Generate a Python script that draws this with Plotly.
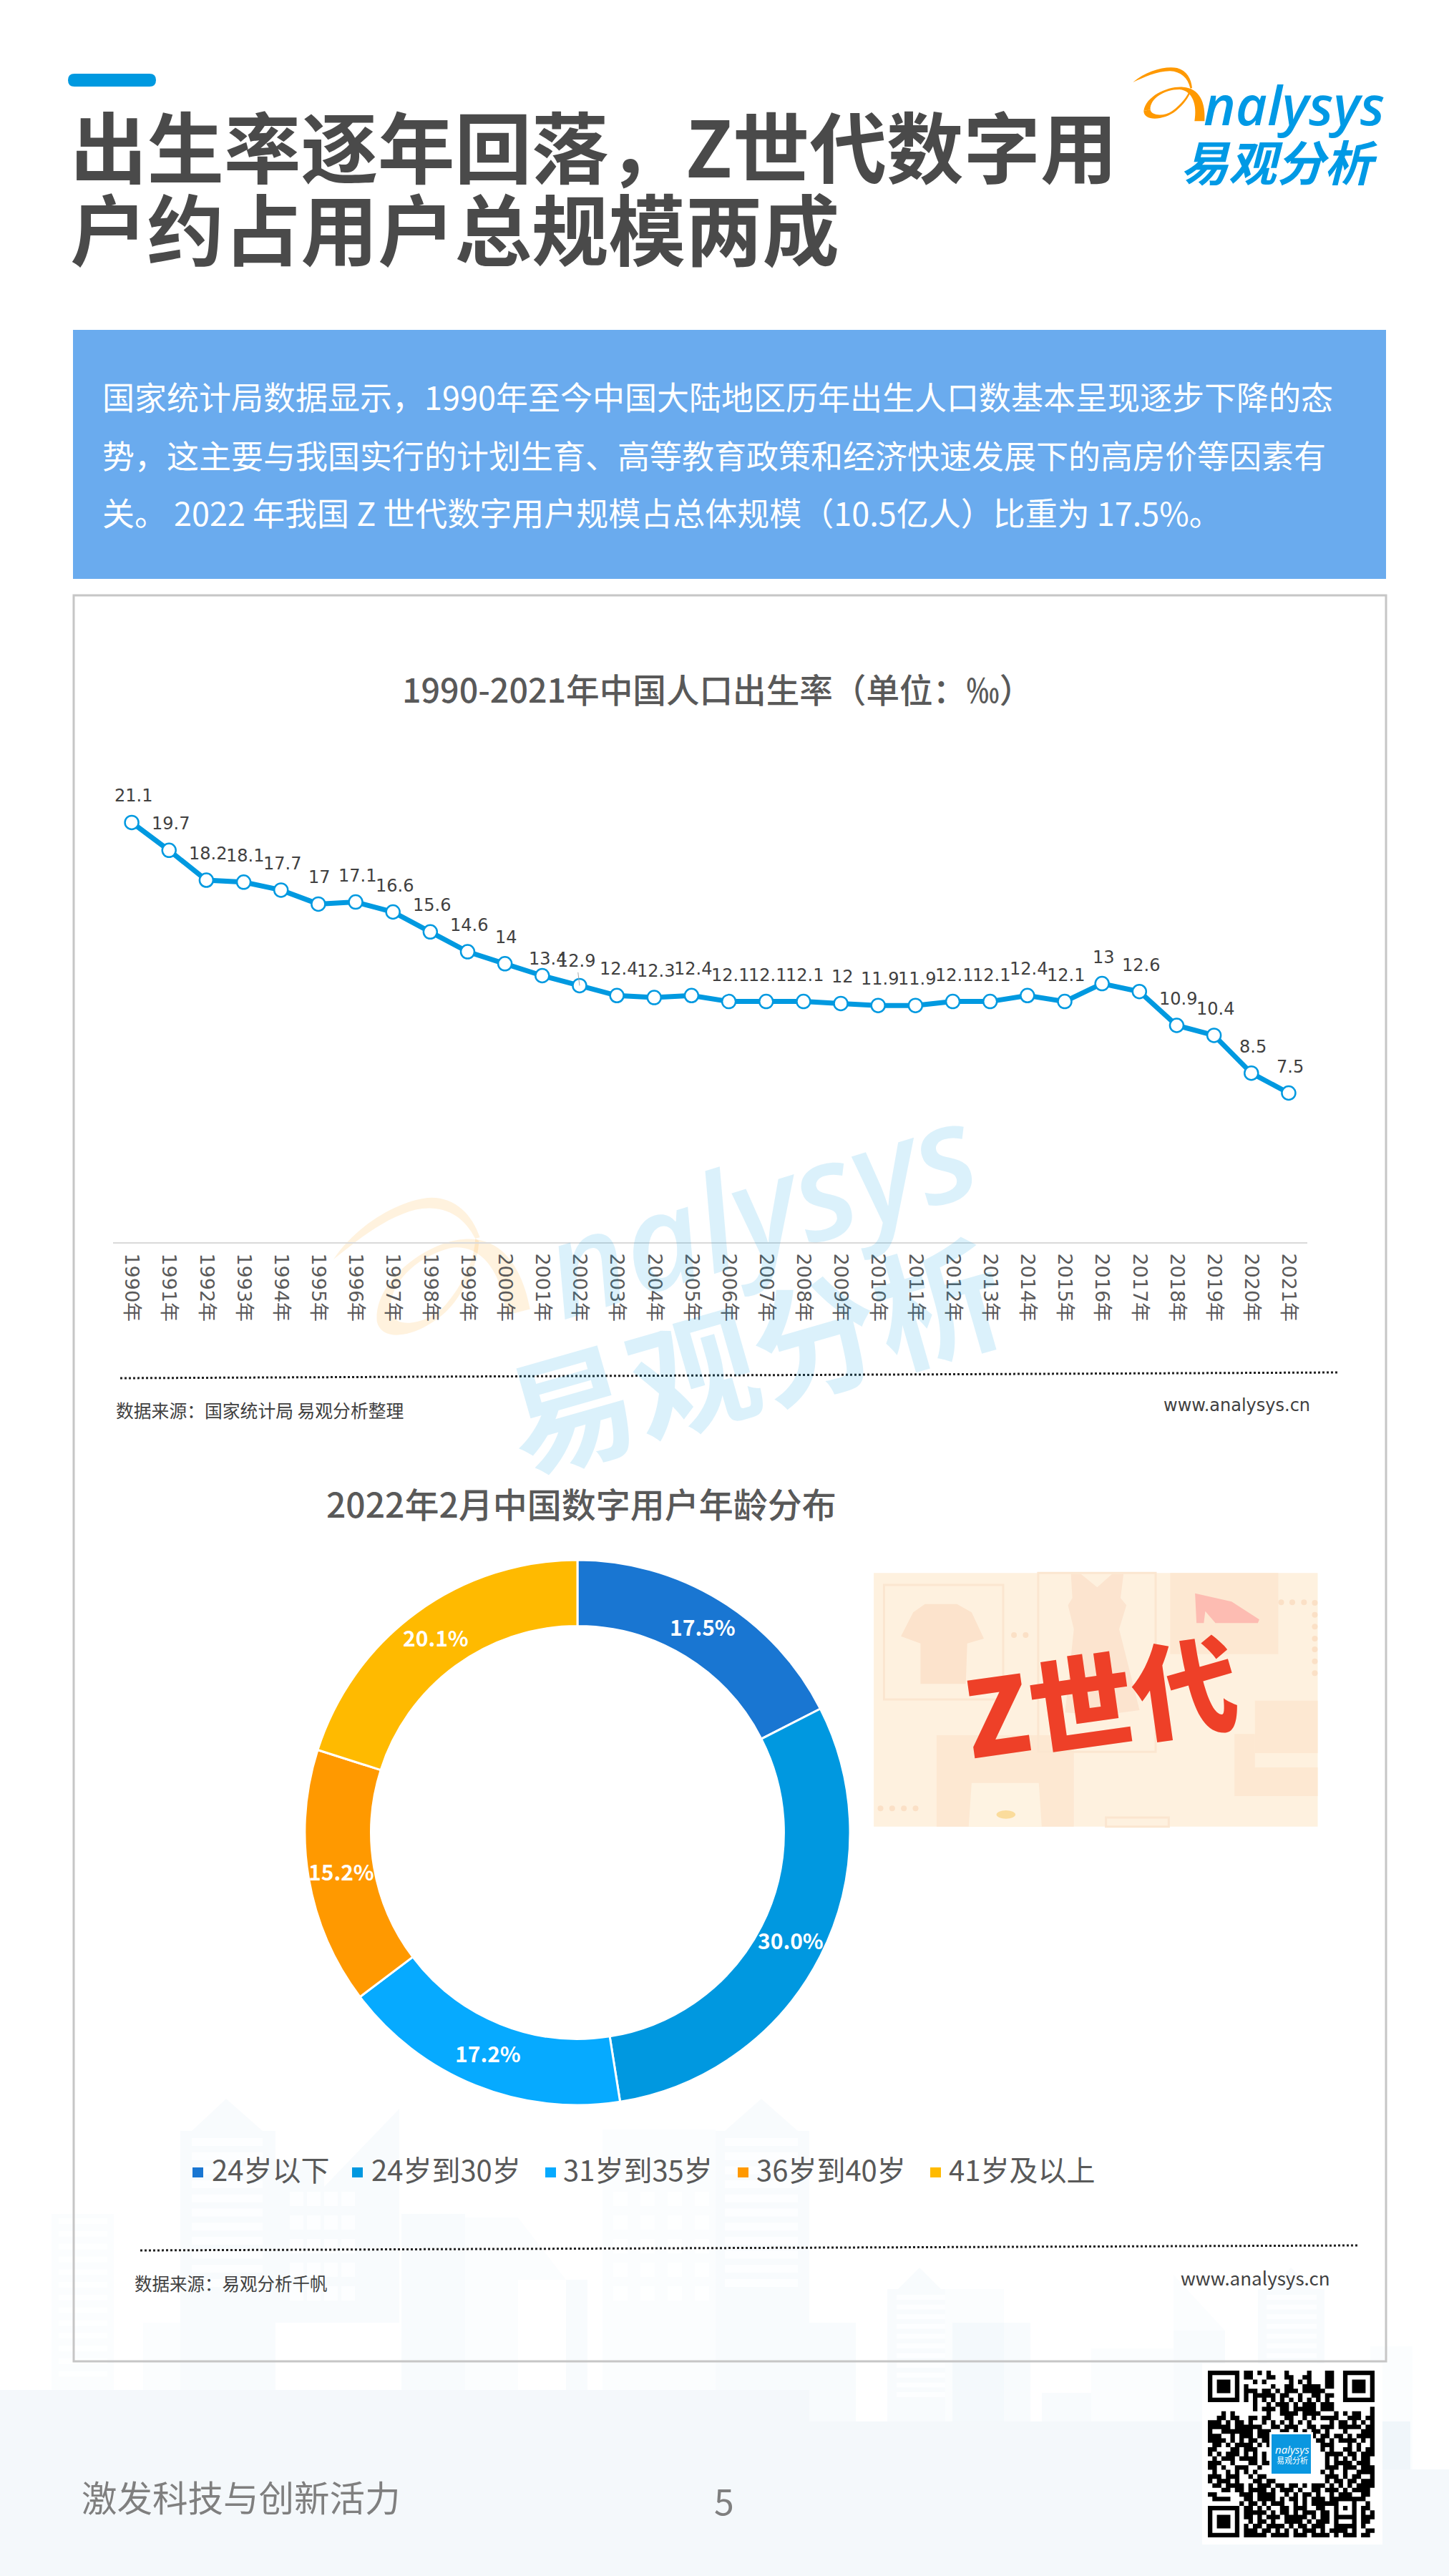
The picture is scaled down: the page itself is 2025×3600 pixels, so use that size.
import math
import plotly.graph_objects as go

# --- chart data ---
years = [f"{y}年" for y in range(1990, 2022)]
birth_rate = [21.1, 19.7, 18.2, 18.1, 17.7, 17, 17.1, 16.6, 15.6, 14.6, 14, 13.4, 12.9, 12.4, 12.3, 12.4,
              12.1, 12.1, 12.1, 12, 11.9, 11.9, 12.1, 12.1, 12.4, 12.1, 13, 12.6, 10.9, 10.4, 8.5, 7.5]
age_groups = ["24岁以下", "24岁到30岁", "31岁到35岁", "36岁到40岁", "41岁及以上"]
age_share = [17.5, 30.0, 17.2, 15.2, 20.1]
age_colors = ["#1976d2", "#0098e0", "#06aaff", "#ff9900", "#ffba00"]

W, H = 2025, 3600
CJK = "Noto Sans CJK SC"
LATIN = "DejaVu Sans, Noto Sans CJK SC"
BLUE = "#0099e0"


def px(x):
    return x / W


def py(y):
    return 1 - y / H


shapes = []
annotations = []


def rect(x0, y0, x1, y1, fill=None, line=None, lw=0, layer="below"):
    shapes.append(dict(type="rect", xref="paper", yref="paper", x0=px(x0), x1=px(x1), y0=py(y0), y1=py(y1),
                       fillcolor=fill or "rgba(0,0,0,0)", line=dict(color=line or "rgba(0,0,0,0)", width=lw), layer=layer))


def poly(points, fill, layer="below"):
    path = "M " + " L ".join(f"{px(x)},{py(y)}" for x, y in points) + " Z"
    shapes.append(dict(type="path", xref="paper", yref="paper", path=path, fillcolor=fill,
                       line=dict(width=0), layer=layer))


def curve(cmds, fill, tx, layer="below"):
    # cmds: list of (letter, points); tx maps a point to page pixels
    parts = []
    for letter, pts in cmds:
        coords = " ".join(f"{px(tx(*p)[0])},{py(tx(*p)[1])}" for p in pts)
        parts.append(f"{letter} {coords}")
    shapes.append(dict(type="path", xref="paper", yref="paper", path=" ".join(parts) + " Z", fillcolor=fill,
                       line=dict(width=0), layer=layer))


def dot(cx, cy, rx, ry, fill, layer="below"):
    shapes.append(dict(type="circle", xref="paper", yref="paper", x0=px(cx - rx), x1=px(cx + rx), y0=py(cy - ry),
                       y1=py(cy + ry), fillcolor=fill, line=dict(width=0), layer=layer))


def segment(x0, y0, x1, y1, color, width, dash="solid", layer="below"):
    shapes.append(dict(type="line", xref="paper", yref="paper", x0=px(x0), x1=px(x1), y0=py(y0), y1=py(y1),
                       line=dict(color=color, width=width, dash=dash), layer=layer))


def text(x, y, s, size, color, anchor="left", weight=400, family=CJK, angle=0, style="normal"):
    # y is the middle of the glyphs; the line box sits a little higher than that
    annotations.append(dict(xref="paper", yref="paper", x=px(x), y=py(y - 0.08 * size), text=s, showarrow=False,
                            xanchor=anchor, yanchor="middle", textangle=angle, borderpad=0,
                            font=dict(family=family, size=size, color=color, weight=weight, style=style)))


# --- faint skyline behind the page ---
BAND = "rgba(0,100,170,0.045)"
SKY = "rgba(0,100,170,0.028)"
PALE = "rgba(0,100,170,0.014)"
rect(0, 3340, 1131, 3600, fill=BAND)
rect(1131, 3384, 1971, 3600, fill=BAND)
rect(1971, 3451, 2025, 3600, fill=BAND)
skyline = [
    (252, 2978, 385, 3340, SKY), (385, 3020, 453, 3246, SKY),
    (200, 3246, 252, 3340, PALE), (561, 3094, 650, 3340, SKY), (650, 3099, 724, 3340, PALE),
    (791, 3186, 821, 3340, SKY), (842, 2976, 1000, 3340, PALE), (1000, 2978, 1131, 3340, SKY),
    (1131, 3246, 1196, 3384, SKY), (1240, 3199, 1321, 3384, SKY), (1321, 3199, 1403, 3384, PALE),
    (1331, 3246, 1440, 3384, SKY), (1456, 3344, 1525, 3384, SKY), (1525, 3282, 1640, 3384, PALE),
    (1640, 3257, 1712, 3384, SKY), (1758, 3199, 1851, 3384, SKY), (1915, 3279, 1974, 3451, PALE),
    (72, 3094, 159, 3340, PALE),
]
for x0, y0, x1, y1, c in skyline:
    rect(x0, y0, x1, y1, fill=c)
poly([(268, 2978), (316, 2933), (367, 2978)], SKY)
poly([(1013, 2978), (1064, 2933), (1115, 2978)], SKY)
poly([(1255, 3199), (1285, 3169), (1315, 3199)], SKY)
poly([(1775, 3199), (1804, 3169), (1835, 3199)], SKY)
poly([(453, 3056), (558, 2947), (558, 3246), (453, 3246)], SKY)
poly([(724, 3099), (791, 3186), (724, 3186)], PALE)
poly([(1640, 3179), (1712, 3257), (1640, 3257)], PALE)
for i in range(11):
    rect(268, 2988 + i * 19.7, 367, 2999 + i * 19.7, fill="rgba(255,255,255,0.75)")
    rect(1013, 2988 + i * 19.7, 1115, 2999 + i * 19.7, fill="rgba(255,255,255,0.75)")
for i in range(11):
    rect(1253, 3207 + i * 13.6, 1321, 3214 + i * 13.6, fill="rgba(255,255,255,0.7)")
    rect(1770, 3207 + i * 13.6, 1840, 3214 + i * 13.6, fill="rgba(255,255,255,0.7)")
for i in range(13):
    rect(82, 3100 + i * 17.8, 150, 3108 + i * 17.8, fill="rgba(255,255,255,0.8)")
for r in range(5):
    for c in range(4):
        rect(405 + c * 24, 3063 + r * 33, 424 + c * 24, 3083 + r * 33, fill="rgba(255,255,255,0.7)")
        rect(857 + c * 38, 3063 + r * 33, 877 + c * 38, 3083 + r * 33, fill="rgba(255,255,255,0.7)")

# --- header ---
shapes.append(dict(type="path", xref="paper", yref="paper", fillcolor=BLUE, line=dict(width=0), layer="below",
                   path=f"M {px(104)},{py(103)} L {px(209)},{py(103)} Q {px(218)},{py(103)} {px(218)},{py(112)} "
                        f"Q {px(218)},{py(121)} {px(209)},{py(121)} L {px(104)},{py(121)} "
                        f"Q {px(95)},{py(121)} {px(95)},{py(112)} Q {px(95)},{py(103)} {px(104)},{py(103)} Z"))
text(97, 210, "出生率逐年回落，Z世代数字用", 107.5, "#4a4a4a", weight=700)
text(97, 325, "户约占用户总规模两成", 107.5, "#4a4a4a", weight=700)

# logo swirl, coordinates are the logo's own
swirl_top = [("M", [(40, 105)]), ("C", [(95, 55), (180, 35), (225, 45)]), ("C", [(265, 55), (285, 90), (288, 130)]),
             ("L", [(280, 130)]), ("C", [(270, 85), (240, 60), (195, 58)]), ("C", [(140, 58), (85, 85), (40, 105)])]
swirl_a = [("M", [(85, 225)]), ("C", [(95, 160), (190, 120), (250, 125)]), ("C", [(320, 130), (345, 190), (340, 268)]),
           ("L", [(298, 268)]), ("C", [(310, 200), (290, 140), (235, 135)]), ("C", [(170, 135), (110, 175), (113, 220)])]
swirl_b = [("M", [(85, 225)]), ("C", [(85, 270), (170, 265), (220, 225)]), ("C", [(250, 200), (275, 170), (285, 135)]),
           ("L", [(280, 130)]), ("C", [(270, 165), (240, 200), (205, 225)]), ("C", [(170, 250), (115, 245), (113, 220)])]


def logo_tx(x, y):
    return 1570 + x / 3, 80 + y / 3


def mark_tx(x, y):
    dx, dy = x - 40, y - 105
    return 466 + 0.83 * (0.969 * dx + 0.247 * dy), 1760 + 0.83 * (-0.247 * dx + 0.969 * dy)


for part in (swirl_top, swirl_a, swirl_b):
    curve(part, "#ff9900", logo_tx)
    curve(part, "rgba(255,153,0,0.13)", mark_tx)
text(1808, 152, "nalysys", 76, "#0099e5", anchor="center", family="Open Sans", style="italic", weight=600)
text(1787, 229, "易观分析", 67, "#0099e5", anchor="center", weight=700, style="italic")

# --- summary box ---
rect(102, 461, 1937, 809, fill="#6aabee")
text(142, 557, "国家统计局数据显示，1990年至今中国大陆地区历年出生人口数基本呈现逐步下降的态", 45, "white")
text(142, 639, "势，这主要与我国实行的计划生育、高等教育政策和经济快速发展下的高房价等因素有", 45, "white")
text(142, 719, "关。 2022 年我国 Z 世代数字用户规模占总体规模（10.5亿人）比重为 17.5%。", 45, "white")

# --- card and source lines ---
rect(103, 832, 1937, 3300, line="#c6c6c6", lw=3)
text(1002, 965, "1990-2021年中国人口出生率（单位：‰）", 46.6, "#595959", anchor="center", weight=500)
segment(168, 1926, 1871, 1918, "#222222", 3, dash="dot")
text(161, 1972, "数据来源：国家统计局 易观分析整理", 24.8, "#404040")
text(1832, 1966, "www.analysys.cn", 24, "#404040", anchor="right", family=LATIN)
text(812, 2104, "2022年2月中国数字用户年龄分布", 48, "#595959", anchor="center", weight=500)
segment(196, 3145, 1899, 3138, "#222222", 3, dash="dot")
text(187, 3192, "数据来源：易观分析千帆", 24.5, "#404040")
text(1860, 3185, "www.analysys.cn", 26, "#404040", anchor="right")

# --- watermark ---
text(1060, 1700, "nalysys", 186, "rgba(0,153,224,0.14)", anchor="center", family="Open Sans", style="italic",
     angle=-17, weight=600)
text(1052, 1901, "易观分析", 178, "rgba(0,153,224,0.14)", anchor="center", weight=700, angle=-16)


# --- Z世代 picture, coordinates measured inside the picture ---
def zp(x, y):
    return 1215 + x / 2.45, 2190 + y / 3


def zpoly(pts, fill):
    poly([zp(*p) for p in pts], fill)


def zrect(x0, y0, x1, y1, fill=None, line=None, lw=0):
    a, b = zp(x0, y0), zp(x1, y1)
    rect(a[0], a[1], b[0], b[1], fill=fill, line=line, lw=lw)


PANEL = "#fde8d2"
zrect(15, 25, 1535, 1088, fill="#fef1df")
zrect(1030, 25, 1400, 365, fill=PANEL)
zrect(230, 705, 700, 1088, fill=PANEL)
zrect(1320, 560, 1535, 780, fill=PANEL)
zrect(1250, 700, 1320, 960, fill=PANEL)
zrect(1290, 840, 1535, 960, fill=PANEL)
zrect(50, 75, 458, 555, line="#fbe6d0", lw=3)
zrect(578, 25, 980, 775, line="#fbe6d0", lw=3)
zrect(810, 1050, 1025, 1088, line="#fbe6d0", lw=3)
zpoly([(190, 155), (300, 155), (350, 190), (392, 300), (335, 320), (330, 490), (175, 490), (175, 320), (108, 290),
       (150, 190)], "#fce3cc")
zpoly([(690, 30), (725, 30), (780, 85), (830, 30), (870, 30), (860, 130), (880, 160), (855, 260), (925, 600),
       (800, 620), (670, 610), (700, 260), (680, 160), (695, 130)], "#fce4cf")
zpoly([(1115, 110), (1240, 145), (1335, 220), (1330, 235), (1185, 235), (1150, 185), (1145, 235), (1120, 235)], "#fdbcb2")
zpoly([(350, 905), (580, 905), (590, 1088), (340, 1088)], "#fef3e2")
a, b = zp(435, 1020), zp(500, 1055)
dot((a[0] + b[0]) / 2, (a[1] + b[1]) / 2, (b[0] - a[0]) / 2, (b[1] - a[1]) / 2, "#fbdc9c")
for zx, zy in [(495, 285), (535, 285), (1410, 148), (1448, 148), (1488, 148), (1525, 150), (38, 1012), (78, 1012),
               (118, 1012), (158, 1012), (1525, 200), (1525, 250), (1525, 300), (1525, 345), (1525, 395), (1525, 445)]:
    c = zp(zx, zy)
    dot(c[0], c[1], 4, 4, "#fbe0c6")
text(1537, 2380, "Z世代", 146, "#ee4028", anchor="center", weight=900, angle=-8)

# --- footer ---
text(113, 3492, "激发科技与创新活力", 49.5, "#7f7f7f")
text(1012, 3497, "5", 50, "#7f7f7f", anchor="center")

# --- QR code ---
qr_rows = [
    "........##.#.#...#....#...##.........",
    "........##...##..##..##...##.........",
    "..........#.#.....#.#.#...##.........",
    "........#.....#..##..####.##.........",
    "........###.##.#.###.#####...........",
    "........#.#####.##..#..##.##.........",
    "........#.#.#.#.#.#.#.#.#.#..........",
    "..........#..#.###.#.###.###.........",
    "..........#.###.##.#####.###........#",
    "...#.#.......#..####.####...#.#.##..#",
    "..##.##..##.##...##..#.#.####..###.##",
    "###.#.##.#..#.#.#.#.#.#....#.##.#.#.#",
    "#####.######..##.###..##.###.#####.##",
    "#..#######.###..##.#.#.##.#...#...###",
    "###..#.###.###.........#.##.##.#.####",
    "####.#.#.##.##..........##.#.####.#.#",
    ".##.#.####.#.#...........###...#.#..#",
    "##...##.###..............#.#..##.#.##",
    "#.#.###.#.#.#.............####.##.###",
    ".#.###.####.#.............#.#.#.#.##.",
    "###..#...##.##............#.####.###.",
    "##.#..###..#..............###.###.###",
    ".#..#.#.#.#..............#.#..#..####",
    "###.###..#.##.............###.#.##..#",
    "#.###.#...##.##...........#.##.##.###",
    ".##.####.#.###.##.##.#.###.#.#.#.####",
    "...##.##.####.#.###.#..##.###.#.####.",
    "##.....###.####..#.#.##.#..#.###..##.",
    ".####...##.####.#.##.#.###.##.#.###..",
    ".......#.##.#.###..#.#.#####.......#.",
    "........##.#.#..##.###..##..#####.##.",
    "........#####.#.##.#.###.##.#...#.#.#",
    "........##.#.###.#####.#.##.#.#.#.###",
    ".........#.##.#..####.#.###.#...#.##.",
    "........#.##.####.#.##.###..#####.#..",
    "........###.##.#.#.#.###.#.####.#..##",
    "........#####.####.###.####.#.###.##.",
]
grid = [list(r.ljust(37, ".")[:37]) for r in qr_rows]
for r0, c0 in [(0, 0), (0, 30), (30, 0)]:
    for r in range(7):
        for c in range(7):
            ring = r in (0, 6) or c in (0, 6) or (2 <= r <= 4 and 2 <= c <= 4)
            grid[r0 + r][c0 + c] = "#" if ring else "."
for r in range(5):
    for c in range(5):
        grid[28 + r][28 + c] = "#" if (r in (0, 4) or c in (0, 4) or (r == 2 and c == 2)) else "."

rect(1680, 3303, 1932, 3556, fill="white", layer="above")
qx, qy, qm = 1688, 3313, 233 / 37
qr_path = []
for r, row in enumerate(grid):
    c = 0
    while c < 37:
        if row[c] == "#":
            start = c
            while c < 37 and row[c] == "#":
                c += 1
            x0, x1, y0, y1 = qx + start * qm, qx + c * qm, qy + r * qm, qy + (r + 1) * qm
            qr_path.append(f"M {px(x0)},{py(y0)} L {px(x1)},{py(y0)} L {px(x1)},{py(y1)} L {px(x0)},{py(y1)} Z")
        else:
            c += 1
shapes.append(dict(type="path", xref="paper", yref="paper", path=" ".join(qr_path), fillcolor="black",
                   line=dict(width=0), layer="above"))
rect(1774, 3399, 1835, 3460, fill="white", layer="above")
rect(1777, 3402, 1832, 3457, fill="#0a97e0", layer="above")
text(1806, 3424, "nalysys", 15, "white", anchor="center", family="Open Sans", style="italic")
text(1806, 3439, "易观分析", 11, "white", anchor="center")

# --- traces ---
fig = go.Figure()
fig.add_trace(go.Scatter(
    x=years, y=birth_rate, mode="lines+markers", showlegend=False, hoverinfo="x+y",
    line=dict(color=BLUE, width=7),
    marker=dict(size=19, color="white", line=dict(color=BLUE, width=2.5)),
))

# 2001 sits closer to its point because it would run into 2002
label_shift = {"2001年": (8, 23)}
for yr, val in zip(years, birth_rate):
    if yr == "2002年":
        # this one keeps the short grey leader the reference has
        annotations.append(dict(xref="x", yref="y", x=yr, y=val, text=str(val), showarrow=True, arrowhead=0,
                                arrowwidth=1, arrowcolor="#a6a6a6", ax=-4, ay=-34, standoff=0,
                                font=dict(family=LATIN, size=24, color="#404040")))
        continue
    dx, dy = label_shift.get(yr, (2, 37))
    annotations.append(dict(xref="x", yref="y", x=yr, y=val, text=str(val), showarrow=False, xshift=dx, yshift=dy,
                            font=dict(family=LATIN, size=24, color="#404040")))

pie_cx, pie_cy, pie_r = 807, 2561, 381
fig.add_trace(go.Pie(
    labels=age_groups, values=age_share, sort=False, direction="clockwise", rotation=0, hole=0.757,
    marker=dict(colors=age_colors, line=dict(color="white", width=3)), textinfo="none", showlegend=False,
    domain=dict(x=[px(pie_cx - pie_r), px(pie_cx + pie_r)], y=[py(pie_cy + pie_r), py(pie_cy - pie_r)]),
))

# slice labels sit mid-ring, plotly's own inside placement pushes them away from there
ring_mid = pie_r * (1 + 0.757) / 2
total = 0
for share in age_share:
    angle = math.radians((total + share / 2) * 3.6)
    total += share
    text(pie_cx + ring_mid * math.sin(angle), pie_cy - ring_mid * math.cos(angle), f"{share:.1f}%", 30, "white",
         anchor="center", weight=700)

# legend row with the tall swatches of the reference
legend_swatch = [269, 492, 762, 1031, 1300]
legend_text = [295, 518, 786, 1056, 1325]
for name, col, sx, tx in zip(age_groups, age_colors, legend_swatch, legend_text):
    rect(sx, 3029, sx + 15, 3043, fill=col)
    text(tx, 3034, name, 40, "#595959")

fig.update_layout(
    width=W, height=H, margin=dict(l=0, r=0, t=0, b=0), paper_bgcolor="white", plot_bgcolor="rgba(0,0,0,0)",
    shapes=shapes, annotations=annotations, hovermode="closest",
    xaxis=dict(type="category", domain=[px(158), px(1827)], range=[-0.5, 31.5], tickangle=90, showgrid=False,
               showline=True, linecolor="#d9d9d9", linewidth=2, ticks="", ticklabelstandoff=8, zeroline=False,
               tickfont=dict(family=LATIN, size=27, color="#595959"), anchor="y"),
    yaxis=dict(domain=[py(1736), py(1124.4)], range=[0, 22], visible=False, anchor="x"),
)

fig.write_html("out.html", config=dict(displayModeBar=False), post_script="document.body.style.margin='0';")
